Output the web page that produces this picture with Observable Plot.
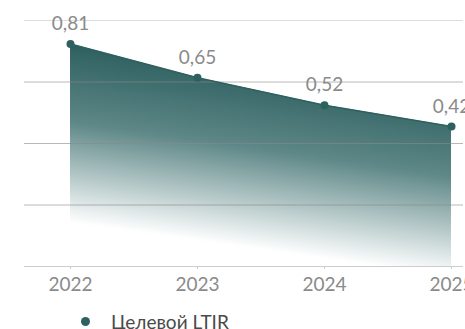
<!DOCTYPE html>
<html>
<head>
<meta charset="utf-8">
<script src="https://cdn.jsdelivr.net/npm/d3@7"></script>
<script src="https://cdn.jsdelivr.net/npm/@observablehq/plot@0.6"></script>
<style>
  html, body { margin: 0; padding: 0; background: #fff; }
  #chart { width: 465px; height: 329px; overflow: hidden; position: relative; }
  .legend { display: flex; align-items: center; font-family: Lato, "Open Sans", sans-serif; font-size: 19px; color: #4a4a4a; margin-left: 81px; margin-top: 10px; white-space: nowrap; }
  .legend .dot { width: 9px; height: 9px; border-radius: 50%; background: #2e6060; margin-right: 21px; }
</style>
</head>
<body>
<div id="chart"></div>
<script>
const years = ["2022", "2023", "2024", "2025"];
const values = [0.81, 0.65, 0.52, 0.42];
const seriesName = "Целевой LTIR";
const yDomain = [-0.242, 0.921];

const data = years.map((y, i) => ({year: y, value: values[i]}));
const gridVals = d3.range(5).map(i => yDomain[0] + (yDomain[1] - yDomain[0]) * i / 4);
const fmt = v => d3.format(".2f")(v).replace(".", ",");
const dark = "#2e6060";

const plot = Plot.plot({
  width: 465,
  height: 300,
  marginLeft: 24,
  marginRight: 2,
  marginTop: 20,
  marginBottom: 34,
  style: {fontFamily: "Lato, 'Open Sans', sans-serif", fontSize: "19px", color: "#888", overflow: "visible"},
  x: {type: "point", domain: years, padding: 0, insetLeft: 45, insetRight: 11, label: null},
  y: {domain: yDomain, axis: null},
  marks: [
    () => {
      const svg = d3.create("svg:defs");
      const g = svg.append("linearGradient")
        .attr("id", "areaGrad")
        .attr("x1", 0.5).attr("y1", 0.1)
        .attr("x2", 0.31).attr("y2", 0.88);
      g.append("stop").attr("offset", 0).attr("stop-color", "#2b5d5d").attr("stop-opacity", 1);
      g.append("stop").attr("offset", 0.45).attr("stop-color", "#5e8787").attr("stop-opacity", 1);
      g.append("stop").attr("offset", 1).attr("stop-color", "#ffffff").attr("stop-opacity", 1);
      return svg.node();
    },
    Plot.areaY(data, {x: "year", y1: yDomain[0], y2: "value", fill: "url(#areaGrad)"}),
    Plot.ruleY(gridVals.slice(1, 4), {stroke: "#888", strokeOpacity: 0.6, strokeWidth: 1}),
    Plot.ruleY([gridVals[4]], {stroke: "#ddd", strokeWidth: 1}),
    Plot.ruleY([gridVals[0]], {stroke: "#ccc", strokeWidth: 1}),
    Plot.lineY(data, {x: "year", y: "value", stroke: dark, strokeWidth: 1.5}),
    Plot.dot(data, {x: "year", y: "value", r: 4, fill: dark}),
    Plot.text(data, {x: "year", y: "value", text: d => fmt(d.value), dy: -20, fill: "#8a8a8a", fontSize: 19, fontFamily: "Lato, sans-serif"}),
    Plot.axisX({tickSize: 3, stroke: "#ccc", tickPadding: 8, fill: "#8a8a8a", fontSize: 19})
  ]
});

const wrap = document.getElementById("chart");
wrap.appendChild(plot);
const legend = document.createElement("div");
legend.className = "legend";
legend.innerHTML = `<span class="dot"></span><span>${seriesName}</span>`;
wrap.appendChild(legend);
</script>
</body>
</html>
